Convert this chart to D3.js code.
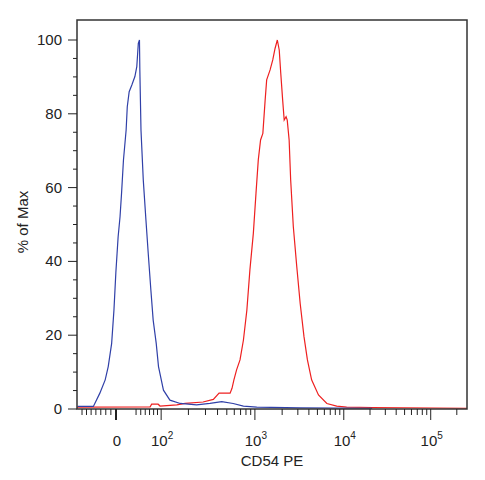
<!DOCTYPE html>
<html lang="en">
<head>
<meta charset="utf-8" />
<title>CD54 PE histogram</title>
<script src="https://d3js.org/d3.v7.min.js"></script>
<style>
  body { margin: 0; background: #fff; }
  text { font-family: "Liberation Sans", Arial, sans-serif; fill: #222; }
</style>
</head>
<body>
<div id="chart"></div>
<script>
// histogram bins are in display channels (0-1024 across the logicle axis)
var blueChannel = [2, 43, 60, 74, 82, 91, 97, 102, 108, 113, 117, 122, 129, 132, 137, 144, 152, 157, 161, 164, 165, 168, 174, 181, 187, 194, 200, 208, 214, 227, 244, 271, 314, 349, 380, 410, 437, 472, 586, 775];
var bluePct =     [0.7, 0.7, 4.3, 7.9, 11.5, 17.8, 26.8, 36.9, 46.7, 52.1, 58.5, 67.5, 75.6, 81.9, 86.0, 87.8, 90.1, 92.8, 99.1, 100, 91.9, 75.6, 62.1, 51.2, 42.2, 32.2, 24.1, 17.8, 11.5, 5.1, 2.4, 1.5, 1.1, 1.5, 2.0, 1.5, 0.8, 0.5, 0.3, 0.2];

var redChannel = [0, 192, 196, 213, 218, 262, 284, 331, 358, 373, 402, 407, 412, 419, 428, 437, 446, 454, 463, 470, 476, 482, 488, 494, 498, 507, 514, 520, 526, 531, 535, 540, 544, 549, 552, 557, 561, 568, 577, 586, 596, 605, 616, 634, 656, 682, 708, 775, 1024];
var redPct =     [0.5, 0.6, 1.3, 1.3, 0.8, 1.1, 1.5, 1.9, 2.6, 4.3, 4.3, 5.6, 7.9, 10.6, 13.3, 18.7, 26.8, 37.7, 47.6, 58.5, 67.5, 72.9, 74.7, 83.7, 89.2, 91.9, 94.6, 97.7, 100, 97.3, 91.0, 83.7, 78.3, 79.2, 78.3, 72.9, 62.1, 49.4, 38.6, 28.6, 19.6, 13.3, 7.9, 3.8, 1.5, 0.8, 0.5, 0.4, 0.2];

var yTicks = [0, 20, 40, 60, 80, 100];
var xMajorTicks = [0, 100, 1000, 10000, 100000];
var xMajorLabels = [["0", ""], ["10", "2"], ["10", "3"], ["10", "4"], ["10", "5"]];
var xMinorTicks = [-70, -60, -50, -40, -30, -20, -10, 40, 50, 60, 70, 80, 90,
    200, 300, 400, 500, 600, 700, 800, 900,
    2000, 3000, 4000, 5000, 6000, 7000, 8000, 9000,
    20000, 30000, 40000, 50000, 60000, 70000, 80000, 90000, 200000];

// logicle transform (T, W, M, A=0)
var T = 262144, M = 4.5, W = 0.45;
var lw = W / M, lb = M * Math.LN10;
var ld = (function () {
    var lo = 1e-6, hi = lb;
    for (var i = 0; i < 100; i++) {
        var mid = (lo + hi) / 2;
        var f = 2 * (Math.log(mid) - Math.log(lb)) + lw * (lb + mid);
        if (f > 0) hi = mid; else lo = mid;
    }
    return (lo + hi) / 2;
})();
var x1 = lw, x0 = 2 * lw;
var ca = Math.exp(x0 * (lb + ld));
var mfa = Math.exp(lb * x1) - ca / Math.exp(ld * x1);
var la = T / ((Math.exp(lb) - mfa) - ca / Math.exp(ld));
var lc = ca * la, lf = -mfa * la;
function biex(y) { return la * Math.exp(lb * y) - lc * Math.exp(-ld * y) + lf; }
function logicle(v) {
    var lo = -0.5, hi = 1.5;
    for (var i = 0; i < 80; i++) {
        var mid = (lo + hi) / 2;
        if (biex(mid) < v) lo = mid; else hi = mid;
    }
    return (lo + hi) / 2;
}

var width = 485, height = 480;
var pLeft = 77, pRight = 467, pTop = 20, pBottom = 409;

var svg = d3.select("#chart").append("svg")
    .attr("width", width)
    .attr("height", height);

var x = d3.scaleLinear().domain([0, 1024]).range([pLeft, pRight]);
var y = d3.scaleLinear().domain([0, 100]).range([pBottom, 40]);
function xv(v) { return x(logicle(v) * 1024); }

// curves
var line = d3.line().x(function (d) { return x(d[0]); }).y(function (d) { return y(d[1]); });
svg.append("path")
    .datum(d3.zip(redChannel, redPct))
    .attr("d", line)
    .attr("fill", "none")
    .attr("stroke", "#ee2020")
    .attr("stroke-width", 1.2);
svg.append("path")
    .datum(d3.zip(blueChannel, bluePct))
    .attr("d", line)
    .attr("fill", "none")
    .attr("stroke", "#3040a8")
    .attr("stroke-width", 1.2);

// frame
svg.append("rect")
    .attr("x", pLeft).attr("y", pTop)
    .attr("width", pRight - pLeft).attr("height", pBottom - pTop)
    .attr("fill", "none").attr("stroke", "#333").attr("stroke-width", 1.5);

// y axis
var yMinor = d3.range(0, 101, 5).filter(function (v) { return v % 20 !== 0; });
svg.selectAll(".ymin").data(yMinor).enter().append("line")
    .attr("x1", pLeft - 4).attr("x2", pLeft)
    .attr("y1", function (d) { return y(d); }).attr("y2", function (d) { return y(d); })
    .attr("stroke", "#222");
svg.selectAll(".ymaj").data(yTicks).enter().append("line")
    .attr("x1", pLeft - 9).attr("x2", pLeft)
    .attr("y1", function (d) { return y(d); }).attr("y2", function (d) { return y(d); })
    .attr("stroke", "#222");
svg.selectAll(".ylab").data(yTicks).enter().append("text")
    .attr("x", 62).attr("y", function (d) { return y(d) + 5; })
    .attr("text-anchor", "end")
    .style("font-size", "15px")
    .text(function (d) { return d; });

// x axis
svg.selectAll(".xmin").data(xMinorTicks).enter().append("line")
    .attr("x1", function (d) { return xv(d); }).attr("x2", function (d) { return xv(d); })
    .attr("y1", pBottom).attr("y2", pBottom + 6)
    .attr("stroke", "#222");
svg.selectAll(".xmaj").data(xMajorTicks).enter().append("line")
    .attr("x1", function (d) { return xv(d); }).attr("x2", function (d) { return xv(d); })
    .attr("y1", pBottom).attr("y2", pBottom + 11)
    .attr("stroke", "#222").attr("stroke-width", function (d) { return d === 0 ? 2 : 1; });
var xl = svg.selectAll(".xlab").data(xMajorTicks).enter().append("text")
    .attr("x", function (d) { return xv(d) + 1; })
    .attr("y", 446)
    .attr("text-anchor", "middle")
    .style("font-size", "15px");
xl.append("tspan").text(function (d, i) { return xMajorLabels[i][0]; });
xl.append("tspan")
    .attr("dy", -7)
    .style("font-size", "10px")
    .text(function (d, i) { return xMajorLabels[i][1]; });

// axis titles
svg.append("text")
    .attr("x", (pLeft + pRight) / 2).attr("y", 466)
    .attr("text-anchor", "middle")
    .style("font-size", "15px")
    .text("CD54 PE");
svg.append("text")
    .attr("transform", "translate(28,222)rotate(-90)")
    .attr("text-anchor", "middle")
    .style("font-size", "15px")
    .text("% of Max");
</script>
</body>
</html>
